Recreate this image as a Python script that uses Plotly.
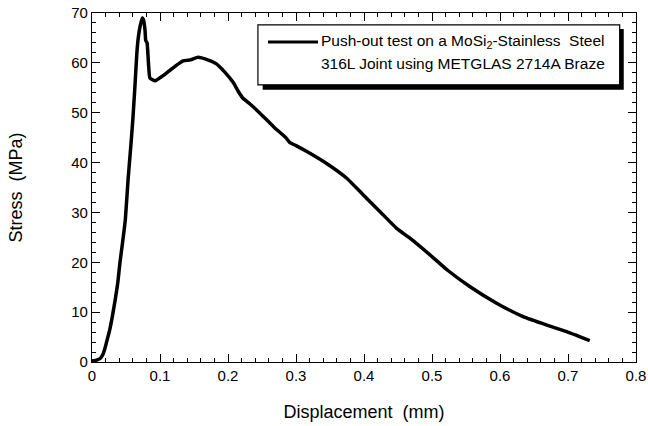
import plotly.graph_objects as go

# Displacement (mm) and Stress (MPa)
displacement = [0.000, 0.005, 0.012, 0.016, 0.019, 0.022, 0.026, 0.030, 0.034, 0.038, 0.041,
                0.045, 0.049, 0.053, 0.057, 0.060, 0.063, 0.066, 0.068, 0.071, 0.074,
                0.076, 0.078, 0.079, 0.081, 0.083, 0.085, 0.089, 0.093, 0.100, 0.110,
                0.122, 0.134, 0.145, 0.156, 0.170, 0.183, 0.195, 0.208, 0.215, 0.222,
                0.232, 0.247, 0.267, 0.285, 0.291, 0.300, 0.316, 0.345, 0.375, 0.399,
                0.424, 0.448, 0.468, 0.497, 0.522, 0.556, 0.595, 0.634, 0.669, 0.698,
                0.715, 0.732]
stress = [0.2, 0.3, 0.7, 1.5, 2.7, 4.3, 6.4, 9.2, 12.4, 16.0, 19.8,
          24.0, 28.5, 36.5, 43.2, 48.5, 55.0, 62.0, 65.0, 67.5, 69.0,
          68.5, 66.5, 64.5, 64.0, 60.0, 57.0, 56.6, 56.4, 57.0, 58.0,
          59.3, 60.4, 60.6, 61.1, 60.6, 59.8, 58.2, 56.0, 54.3, 52.9,
          51.8, 49.9, 47.2, 45.0, 44.0, 43.4, 42.2, 39.8, 36.8, 33.5,
          30.1, 26.8, 24.8, 21.5, 18.5, 15.1, 11.8, 9.1, 7.4, 6.1,
          5.2, 4.3]

x_ticks = [0, 0.1, 0.2, 0.3, 0.4, 0.5, 0.6, 0.7, 0.8]
x_tick_labels = ["0", "0.1", "0.2", "0.3", "0.4", "0.5", "0.6", "0.7", "0.8"]
y_ticks = [0, 10, 20, 30, 40, 50, 60, 70]
y_tick_labels = ["0", "10", "20", "30", "40", "50", "60", "70"]

legend_line1 = "Push-out test on a MoSi<sub>2</sub>-Stainless  Steel"
legend_line2 = "316L Joint using METGLAS 2714A Braze"

FONT = "Liberation Sans, Arial, Helvetica, sans-serif"

fig = go.Figure()
fig.add_trace(go.Scatter(x=displacement, y=stress, mode="lines",
                         line=dict(color="black", width=3.5, shape="spline", smoothing=0.4),
                         name="Push-out test", showlegend=False))

axis_common = dict(
    showline=True, linecolor="black", linewidth=1.2, mirror="allticks",
    ticks="inside", ticklen=8, tickwidth=1, tickcolor="black",
    showgrid=False, zeroline=False, ticklabeloverflow="allow",
    tickfont=dict(family=FONT, size=15, color="black"),
)

fig.update_xaxes(range=[0, 0.8], tickvals=x_ticks, ticktext=x_tick_labels,
                 minor=dict(dtick=0.02, ticks="inside", ticklen=4, tickcolor="black", showgrid=False),
                 title=dict(text="Displacement  (mm)", font=dict(family=FONT, size=18, color="black"), standoff=22),
                 **axis_common)
fig.update_yaxes(range=[0, 70], tickvals=y_ticks, ticktext=y_tick_labels,
                 minor=dict(dtick=2, ticks="inside", ticklen=4, tickcolor="black", showgrid=False),
                 title=dict(text="Stress  (MPa)", font=dict(family=FONT, size=18, color="black"), standoff=43),
                 **axis_common)

# legend box with drop shadow
fig.add_shape(type="rect", xref="x", yref="y", x0=0.251, x1=0.782, y0=54.6, y1=66.8,
              fillcolor="black", line=dict(width=0), layer="above")
fig.add_shape(type="rect", xref="x", yref="y", x0=0.244, x1=0.776, y0=55.6, y1=67.6,
              fillcolor="white", line=dict(color="black", width=1.2), layer="above")
fig.add_shape(type="line", xref="x", yref="y", x0=0.2588, x1=0.3324, y0=64.2, y1=64.2,
              line=dict(color="black", width=3), layer="above")
fig.add_annotation(x=0.334, y=64.3, xref="x", yref="y", text=legend_line1, showarrow=False,
                   xanchor="left", yanchor="middle", font=dict(family=FONT, size=15.5, color="black"))
fig.add_annotation(x=0.334, y=59.8, xref="x", yref="y", text=legend_line2, showarrow=False,
                   xanchor="left", yanchor="middle", font=dict(family=FONT, size=15.5, color="black"))

fig.update_layout(width=648, height=426,
                  margin=dict(l=92, r=12, t=13, b=64, autoexpand=False),
                  plot_bgcolor="white", paper_bgcolor="white",
                  showlegend=False)

fig.write_html("out.html", config={"displayModeBar": False},
               post_script="document.body.style.margin='0';document.body.style.overflow='hidden';")
